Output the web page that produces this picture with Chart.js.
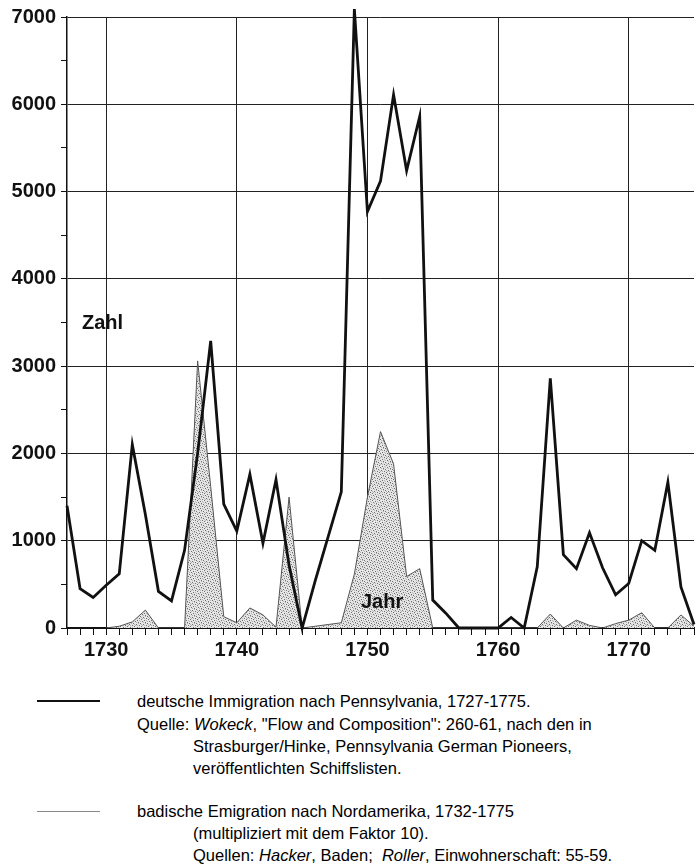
<!DOCTYPE html>
<html>
<head>
<meta charset="utf-8">
<script src="https://cdn.jsdelivr.net/npm/chart.js@4/dist/chart.umd.min.js"></script>
<style>
    body { margin: 0; background: #fff; width: 697px; height: 868px; position: relative; overflow: hidden; }
    #wrap { position: absolute; left: 0; top: 0; width: 697px; height: 670px; }
    .legend-line { position: absolute; left: 37px; width: 63px; }
    .legend-text { position: absolute; font-family: "Liberation Sans", Arial, sans-serif; font-size: 16.5px; color: #000; white-space: nowrap; line-height: 22px; }
</style>
</head>
<body>
<div id="wrap"><canvas id="chart" width="697" height="670"></canvas></div>

<div class="legend-line" style="top:700px; border-top:2.5px solid #111;"></div>
<div class="legend-text" style="left:137px; top:690px;">deutsche Immigration nach Pennsylvania, 1727-1775.</div>
<div class="legend-text" style="left:137px; top:713px;">Quelle: <i>Wokeck</i>, "Flow and Composition": 260-61, nach den in</div>
<div class="legend-text" style="left:193px; top:735px;">Strasburger/Hinke, Pennsylvania German Pioneers,</div>
<div class="legend-text" style="left:193px; top:757px;">veröffentlichten Schiffslisten.</div>

<div class="legend-line" style="top:811px; border-top:1px solid #888;"></div>
<div class="legend-text" style="left:137px; top:800px;">badische Emigration nach Nordamerika, 1732-1775</div>
<div class="legend-text" style="left:193px; top:822px;">(multipliziert mit dem Faktor 10).</div>
<div class="legend-text" style="left:193px; top:844px;">Quellen: <i>Hacker</i>, Baden;&nbsp; <i>Roller</i>, Einwohnerschaft: 55-59.</div>

<script>
// years 1727 - 1775
const years = [
    1727, 1728, 1729, 1730, 1731, 1732, 1733, 1734, 1735, 1736,
    1737, 1738, 1739, 1740, 1741, 1742, 1743, 1744, 1745, 1746,
    1747, 1748, 1749, 1750, 1751, 1752, 1753, 1754, 1755, 1756,
    1757, 1758, 1759, 1760, 1761, 1762, 1763, 1764, 1765, 1766,
    1767, 1768, 1769, 1770, 1771, 1772, 1773, 1774, 1775
];

// deutsche Immigration nach Pennsylvania
const immigration = [
    1400, 450, 350, 490, 620, 2100, 1300, 420, 310, 890,
    2000, 3290, 1420, 1110, 1760, 970, 1700, 720, 0, 540,
    1050, 1560, 7090, 4770, 5120, 6110, 5240, 5860, 320, 170,
    0, 0, 0, 0, 120, 0, 700, 2860, 840, 680,
    1090, 690, 380, 510, 1000, 890, 1670, 470, 40
];

// badische Emigration nach Nordamerika (x10)
const emigration = [
    null, null, null, 0, 20, 70, 205, 0, 0, 0,
    3060, 1620, 130, 60, 230, 150, 10, 1500, 0, 20,
    40, 60, 620, 1500, 2250, 1880, 590, 680, 0, 0,
    0, 0, 0, 0, 0, 0, 0, 160, 0, 90,
    30, 0, 50, 90, 175, 0, 0, 150, 20
];

const yTicksMajor = [0, 1000, 2000, 3000, 4000, 5000, 6000, 7000];
const xTickLabels = [1730, 1740, 1750, 1760, 1770];

function toPoints(values) {
    return years.map((y, i) => ({ x: y, y: values[i] }));
}

// stippled grey fill like the printed original
function makeStipple() {
    const c = document.createElement('canvas');
    c.width = 7; c.height = 7;
    const g = c.getContext('2d');
    g.fillStyle = '#e6e6e6';
    g.fillRect(0, 0, 7, 7);
    const dark = [[0, 0], [3, 1], [6, 2], [1, 3], [4, 4], [2, 5], [5, 6]];
    const mid = [[5, 0], [1, 1], [4, 2], [0, 5], [6, 4], [3, 6], [2, 2]];
    g.fillStyle = '#6e6e6e';
    dark.forEach(p => g.fillRect(p[0], p[1], 1, 1));
    g.fillStyle = '#b4b4b4';
    mid.forEach(p => g.fillRect(p[0], p[1], 1, 1));
    return g.createPattern(c, 'repeat');
}

const labelFont = { family: '"Liberation Sans", Arial, sans-serif', size: 20, weight: 'bold' };

// "Zahl" / "Jahr" captions inside the plot
const captions = {
    id: 'captions',
    afterDraw(chart) {
        const ctx = chart.ctx;
        ctx.save();
        ctx.font = 'bold 20px "Liberation Sans", Arial, sans-serif';
        ctx.fillStyle = '#111';
        ctx.textBaseline = 'alphabetic';
        ctx.fillText('Zahl', 82, 329);
        ctx.fillText('Jahr', 361, 608);
        ctx.restore();
    }
};

const ctx = document.getElementById('chart').getContext('2d');
new Chart(ctx, {
    type: 'line',
    data: {
        datasets: [{
            label: 'deutsche Immigration nach Pennsylvania, 1727-1775',
            data: toPoints(immigration),
            borderColor: '#111',
            borderWidth: 2.8,
            pointRadius: 0,
            tension: 0,
            fill: false,
            clip: false
        }, {
            label: 'badische Emigration nach Nordamerika, 1732-1775',
            data: toPoints(emigration),
            borderColor: '#555',
            borderWidth: 1,
            backgroundColor: makeStipple(),
            pointRadius: 0,
            tension: 0,
            fill: 'origin'
        }]
    },
    options: {
        responsive: false,
        animation: false,
        layout: { padding: { top: 15, right: 1, left: 0, bottom: 0 } },
        plugins: {
            legend: { display: false },
            tooltip: { enabled: false }
        },
        scales: {
            x: {
                type: 'linear',
                min: 1727,
                max: 1775,
                afterFit(scale) { scale.height = 42; },
                border: { color: '#111', width: 2 },
                grid: {
                    color: c => xTickLabels.includes(c.tick.value) ? '#222' : 'rgba(0,0,0,0)',
                    tickColor: '#111',
                    tickLength: 7,
                    lineWidth: 1
                },
                ticks: {
                    stepSize: 1,
                    autoSkip: false,
                    maxRotation: 0,
                    padding: 3,
                    color: '#111',
                    font: labelFont,
                    callback: v => xTickLabels.includes(v) ? String(v) : ''
                }
            },
            y: {
                min: 0,
                max: 7000,
                afterFit(scale) { scale.width = 67; },
                border: { color: '#111', width: 1.5 },
                grid: {
                    color: c => (c.tick.value > 0 && yTicksMajor.includes(c.tick.value)) ? '#222' : 'rgba(0,0,0,0)',
                    tickColor: '#111',
                    tickLength: 6,
                    lineWidth: 1
                },
                ticks: {
                    stepSize: 500,
                    autoSkip: false,
                    padding: 5,
                    color: '#111',
                    font: labelFont,
                    callback: v => yTicksMajor.includes(v) ? String(v) : ''
                }
            }
        }
    },
    plugins: [captions]
});
</script>
</body>
</html>
